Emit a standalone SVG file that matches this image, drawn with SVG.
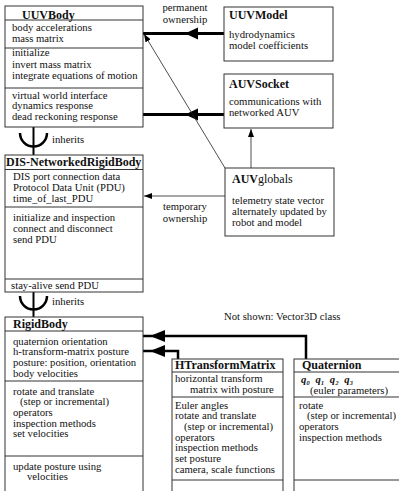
<svg xmlns="http://www.w3.org/2000/svg" width="399" height="491" viewBox="0 0 399 491" font-family="'Liberation Serif', 'DejaVu Serif', 'Times New Roman', serif">
<defs>
<style>
text{font-family:'Liberation Serif','DejaVu Serif','Times New Roman',serif;font-size:10.7px;fill:#111}
.t{font-weight:bold;font-size:12px}
.box{fill:#fff;stroke:#333;stroke-width:1}
.div{stroke:#333;stroke-width:1}
.thick{stroke:#000;stroke-width:3;fill:none}
.med{stroke:#000;stroke-width:2.5;fill:none}
.thin{stroke:#222;stroke-width:0.8;fill:none}
.c{text-anchor:middle}
</style>
<marker id="ah" markerWidth="8" markerHeight="6" refX="8" refY="3" orient="auto" markerUnits="userSpaceOnUse">
<path d="M0,0 L8,3 L0,6 z" fill="#000"/>
</marker>
</defs>
<rect width="399" height="491" fill="#fff"/>

<g id="connectors">
<line class="thick" x1="143" y1="33.5" x2="224" y2="33.5"/>
<polygon points="185,33.5 198,27.5 198,39.5" fill="#000"/>
<line class="thick" x1="143" y1="114.5" x2="224" y2="114.5"/>
<polygon points="185,114.5 198,108.5 198,120.5" fill="#000"/>
<line class="thin" x1="225" y1="168" x2="144" y2="34" marker-end="url(#ah)"/>
<line class="thin" x1="251" y1="168" x2="251" y2="129" marker-end="url(#ah)"/>
<line class="thin" x1="225" y1="196" x2="144" y2="196" marker-end="url(#ah)"/>
<text class="c" x="185" y="11">permanent</text>
<text class="c" x="185" y="23">ownership</text>
<text class="c" x="185" y="210">temporary</text>
<text class="c" x="185" y="221.5">ownership</text>
<line stroke="#000" stroke-width="2" x1="33.5" y1="127" x2="33.5" y2="155"/>
<path class="med" d="M20,133 A13.5,13.5 0 0 0 47,133"/>
<text x="52" y="143">inherits</text>
<line stroke="#000" stroke-width="2" x1="33.5" y1="292" x2="33.5" y2="317"/>
<path class="med" d="M20,296 A13.5,13.5 0 0 0 47,296"/>
<text x="52" y="305">inherits</text>
<polyline class="med" points="306,359 306,336 143,336"/>
<polygon points="150,336 165,330 165,342" fill="#000"/>
<polyline class="med" points="178,359 178,351 143,351"/>
<polygon points="150,351 165,345 165,357" fill="#000"/>
</g>

<g id="UUVBody">
<rect class="box" x="5" y="6" width="138" height="121"/>
<line class="div" x1="5" y1="20" x2="143" y2="20"/>
<line class="div" x1="5" y1="48" x2="143" y2="48"/>
<line class="div" x1="5" y1="88" x2="143" y2="88"/>
<text class="t" x="22" y="18.5">UUVBody</text>
<text x="12" y="31">body accelerations</text>
<text x="12" y="42">mass matrix</text>
<text x="12" y="56">initialize</text>
<text x="12" y="67.5">invert mass matrix</text>
<text x="12" y="79">integrate equations of motion</text>
<text x="12" y="98.5">virtual world interface</text>
<text x="12" y="109.3">dynamics response</text>
<text x="12" y="120.1">dead reckoning response</text>
</g>

<g id="DIS-NetworkedRigidBody">
<rect class="box" x="5" y="155" width="138" height="137"/>
<line class="div" x1="5" y1="169.5" x2="143" y2="169.5"/>
<line class="div" x1="5" y1="207" x2="143" y2="207"/>
<line class="div" x1="5" y1="279" x2="143" y2="279"/>
<text class="t" x="6" y="166">DIS-NetworkedRigidBody</text>
<text x="13" y="180.3">DIS port connection data</text>
<text x="13" y="191">Protocol Data Unit (PDU)</text>
<text x="13" y="201.7">time_of_last_PDU</text>
<text x="13" y="221">initialize and inspection</text>
<text x="13" y="232">connect and disconnect</text>
<text x="13" y="243">send PDU</text>
<text x="11" y="288.5">stay-alive send PDU</text>
</g>

<g id="RigidBody">
<rect class="box" x="5" y="317" width="138" height="180"/>
<line class="div" x1="5" y1="331" x2="143" y2="331"/>
<line class="div" x1="5" y1="381" x2="143" y2="381"/>
<line class="div" x1="5" y1="456" x2="143" y2="456"/>
<text class="t" x="13" y="327.5">RigidBody</text>
<text x="13" y="344.5">quaternion orientation</text>
<text x="13" y="355.2">h-transform-matrix posture</text>
<text x="13" y="365.9">posture: position, orientation</text>
<text x="13" y="376.6">body velocities</text>
<text x="13" y="394.5">rotate and translate</text>
<text x="20" y="405.2">(step or incremental)</text>
<text x="13" y="415.9">operators</text>
<text x="13" y="426.6">inspection methods</text>
<text x="13" y="437.3">set velocities</text>
<text x="13" y="469.5">update posture using</text>
<text x="27" y="480.2">velocities</text>
</g>

<g id="UUVModel">
<rect class="box" x="224" y="7" width="109" height="54"/>
<text class="t" x="229" y="19">UUVModel</text>
<text x="229" y="37.5">hydrodynamics</text>
<text x="229" y="48.5">model coefficients</text>
</g>

<g id="AUVSocket">
<rect class="box" x="224" y="74" width="109" height="54"/>
<text class="t" x="229" y="87.5">AUVSocket</text>
<text x="229" y="104.5">communications with</text>
<text x="229" y="115.5">networked AUV</text>
</g>

<g id="AUVglobals">
<rect class="box" x="225" y="168" width="109" height="68"/>
<text x="232" y="183" style="font-size:12px"><tspan font-weight="bold">AUV</tspan>globals</text>
<text x="232" y="204">telemetry state vector</text>
<text x="232" y="215">alternately updated by</text>
<text x="232" y="225.8">robot and model</text>
</g>

<text x="224" y="320">Not shown:  Vector3D class</text>

<g id="HTransformMatrix">
<rect class="box" x="172" y="359" width="111" height="138"/>
<line class="div" x1="172" y1="372" x2="283" y2="372"/>
<line class="div" x1="172" y1="397" x2="283" y2="397"/>
<line class="div" x1="172" y1="480" x2="283" y2="480"/>
<text class="t" x="175" y="369">HTransformMatrix</text>
<text x="175" y="382">horizontal transform</text>
<text x="190" y="393">matrix with posture</text>
<text x="175" y="408.5">Euler angles</text>
<text x="175" y="419.2">rotate and translate</text>
<text x="184" y="429.9">(step or incremental)</text>
<text x="175" y="440.6">operators</text>
<text x="175" y="451.3">inspection methods</text>
<text x="175" y="462">set posture</text>
<text x="175" y="472.7">camera, scale functions</text>
</g>

<g id="Quaternion">
<rect class="box" x="294" y="359" width="112" height="138"/>
<line class="div" x1="294" y1="372" x2="399" y2="372"/>
<line class="div" x1="294" y1="397" x2="399" y2="397"/>
<line class="div" x1="294" y1="480" x2="399" y2="480"/>
<text class="t" x="302" y="369">Quaternion</text>
<text x="301" y="382.5" font-weight="bold" font-style="italic" xml:space="preserve">q₀  q₁  q₂  q₃</text>
<text x="310" y="393.5">(euler parameters)</text>
<text x="299" y="408.5">rotate</text>
<text x="307" y="419.2">(step or incremental)</text>
<text x="299" y="429.9">operators</text>
<text x="299" y="440.6">inspection methods</text>
</g>
</svg>
